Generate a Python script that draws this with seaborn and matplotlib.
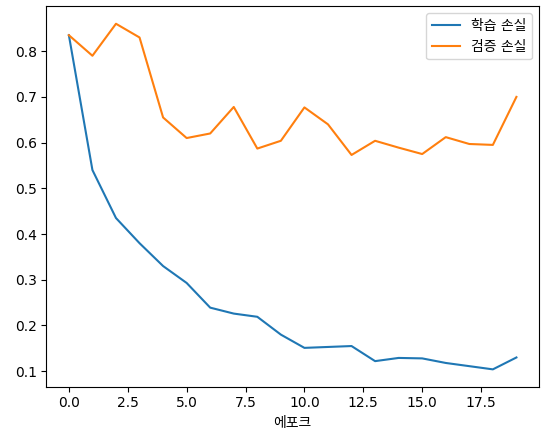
import matplotlib
matplotlib.use("Agg")
import matplotlib.pyplot as plt
import seaborn as sns
import numpy as np

epochs = list(range(20))
train_loss = [0.835, 0.54, 0.435, 0.38, 0.33, 0.293, 0.239, 0.226, 0.219, 0.18,
              0.151, 0.153, 0.155, 0.122, 0.129, 0.128, 0.118, 0.111, 0.104, 0.13]
val_loss = [0.835, 0.79, 0.86, 0.83, 0.655, 0.61, 0.62, 0.678, 0.587, 0.604,
            0.677, 0.64, 0.573, 0.604, 0.589, 0.575, 0.612, 0.597, 0.595, 0.70]

plt.rcParams['font.family'] = ['DejaVu Sans', 'Noto Sans CJK KR']
plt.rcParams['axes.unicode_minus'] = False

fig, ax = plt.subplots(figsize=(5.47, 4.32), dpi=100)
sns.lineplot(x=epochs, y=train_loss, ax=ax, label='학습 손실', color='#1f77b4')
sns.lineplot(x=epochs, y=val_loss, ax=ax, label='검증 손실', color='#ff7f0e')
ax.set_xlabel('에포크')
ax.legend(loc='upper right')
fig.subplots_adjust(left=0.085, right=0.985, top=0.985, bottom=0.105)
fig.savefig('out.png', dpi=100)
